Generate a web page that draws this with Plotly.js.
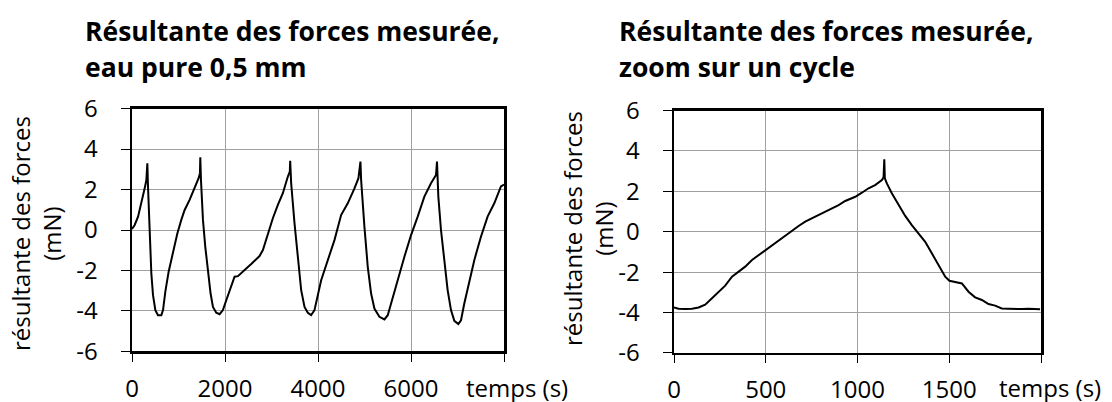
<!DOCTYPE html>
<html>
<head>
<meta charset="utf-8">
<script src="https://cdn.plot.ly/plotly-3.0.1.min.js"></script>
<style>html,body{margin:0;padding:0;background:#fff;}#chart{width:1112px;height:402px;}</style>
</head>
<body>
<div id="chart"></div>
<script>
// ---- Data ----
const leftTime = [0, 58, 130, 201, 273, 309, 330, 344, 380, 416, 452, 502, 559, 631, 667, 717, 788, 881, 975, 1060, 1132, 1239, 1347, 1433, 1461, 1469, 1483, 1526, 1576, 1633, 1690, 1741, 1812, 1884, 1955, 2027, 2120, 2206, 2278, 2349, 2457, 2564, 2671, 2743, 2815, 2922, 3029, 3137, 3244, 3352, 3394, 3402, 3423, 3495, 3566, 3638, 3710, 3781, 3853, 3924, 4068, 4211, 4354, 4497, 4640, 4784, 4870, 4913, 4927, 4998, 5070, 5142, 5213, 5321, 5428, 5500, 5607, 5714, 5858, 6001, 6144, 6287, 6430, 6538, 6559, 6588, 6645, 6717, 6788, 6860, 6932, 7018, 7075, 7146, 7254, 7361, 7504, 7647, 7791, 7934, 8000];
const leftForce = [0.05, 0.25, 0.66, 1.32, 2.06, 2.48, 3.30, 2.15, -0.17, -2.15, -3.22, -3.96, -4.21, -4.21, -3.96, -3.05, -2.06, -1.07, -0.17, 0.50, 0.99, 1.49, 2.06, 2.56, 2.81, 3.60, 2.48, 0.50, -0.83, -2.15, -3.14, -3.80, -4.09, -4.16, -3.96, -3.47, -2.81, -2.31, -2.28, -2.11, -1.90, -1.68, -1.45, -1.29, -0.99, -0.17, 0.58, 1.24, 1.82, 2.64, 2.89, 3.42, 2.31, 0.33, -1.49, -2.97, -3.80, -4.09, -4.21, -3.96, -2.48, -1.49, -0.50, 0.74, 1.32, 2.06, 2.56, 3.38, 2.48, 0.17, -1.82, -3.14, -3.88, -4.29, -4.42, -4.21, -3.30, -2.48, -1.32, -0.25, 0.66, 1.65, 2.31, 2.72, 3.38, 1.65, 0.00, -1.65, -2.97, -3.96, -4.49, -4.65, -4.46, -3.63, -2.56, -1.49, -0.33, 0.66, 1.32, 2.15, 2.25];

const rightTime = [0, 25, 62, 98, 134, 170, 207, 243, 279, 316, 352, 388, 425, 461, 499, 534, 570, 606, 643, 679, 715, 752, 788, 824, 860, 897, 933, 969, 988, 1024, 1060, 1096, 1133, 1142, 1146, 1149, 1160, 1187, 1224, 1260, 1296, 1333, 1369, 1405, 1441, 1478, 1501, 1532, 1569, 1605, 1641, 1678, 1714, 1750, 1786, 1823, 1859, 1895, 1932, 1968, 1995];
const rightForce = [-3.75, -3.81, -3.83, -3.81, -3.75, -3.61, -3.30, -2.97, -2.67, -2.23, -1.98, -1.73, -1.40, -1.16, -0.91, -0.68, -0.41, -0.17, 0.08, 0.28, 0.50, 0.66, 0.83, 0.99, 1.16, 1.32, 1.52, 1.67, 1.73, 1.93, 2.15, 2.31, 2.56, 2.69, 3.58, 2.64, 2.39, 1.90, 1.32, 0.78, 0.33, -0.08, -0.50, -1.07, -1.68, -2.23, -2.43, -2.48, -2.56, -2.97, -3.25, -3.38, -3.58, -3.66, -3.80, -3.81, -3.83, -3.83, -3.81, -3.84, -3.84];

const yTickVals = [-6, -4, -2, 0, 2, 4, 6];
const yTickLabels = ['-6', '-4', '-2', '0', '2', '4', '6'];
const leftXTickVals = [0, 2000, 4000, 6000, 8000];
const leftXTickLabels = ['0', '2000', '4000', '6000', ''];
const rightXTickVals = [0, 500, 1000, 1500, 2000];
const rightXTickLabels = ['0', '500', '1000', '1500', ''];

const leftTitle = ['Résultante des forces mesurée,', 'eau pure 0,5 mm'];
const rightTitle = ['Résultante des forces mesurée,', 'zoom sur un cycle'];
const yTitle = 'résultante des forces<br>(mN)';
const xTitle = 'temps (s)';

// ---- Layout helpers (pixel -> paper) ----
const W = 1112, H = 402;
const px = x => x / W;
const py = y => 1 - y / H;

const FONT = 'Open Sans, Noto Sans, sans-serif';

function xAxis(domain, range, vals, labels, anchor) {
  return {
    domain: domain, range: range, anchor: anchor,
    tickmode: 'array', tickvals: vals, ticktext: labels,
    showgrid: true, gridcolor: '#a0a0a0', gridwidth: 1, zeroline: false,
    showline: true, linecolor: '#000', linewidth: 2.5, mirror: true,
    ticks: 'outside', ticklen: 8, tickwidth: 1, tickcolor: '#000',
    ticklabelstandoff: 6,
    tickfont: {family: FONT, size: 24, color: '#000'},
    fixedrange: true
  };
}
function yAxis(domain, anchor) {
  return {
    domain: domain, range: [-6, 6], anchor: anchor,
    tickmode: 'array', tickvals: yTickVals, ticktext: yTickLabels,
    showgrid: true, gridcolor: '#a0a0a0', gridwidth: 1, zeroline: false,
    showline: true, linecolor: '#000', linewidth: 2.5, mirror: true,
    ticks: 'outside', ticklen: 9, tickwidth: 1, tickcolor: '#000',
    ticklabelstandoff: 18,
    tickfont: {family: FONT, size: 24, color: '#000'},
    fixedrange: true
  };
}

const traces = [
  {x: leftTime, y: leftForce, xaxis: 'x', yaxis: 'y', type: 'scatter', mode: 'lines',
   line: {color: '#000', width: 2}, hoverinfo: 'skip'},
  {x: rightTime, y: rightForce, xaxis: 'x2', yaxis: 'y2', type: 'scatter', mode: 'lines',
   line: {color: '#000', width: 2}, hoverinfo: 'skip'}
];

const titleFont = {family: FONT, size: 26.5, color: '#000', weight: 700};
const labelFont = {family: FONT, size: 24, color: '#000'};

const annotations = [
  {text: '<b>' + leftTitle[0] + '</b>', x: px(83), y: py(31), xanchor: 'left', yanchor: 'middle'},
  {text: '<b>' + leftTitle[1] + '</b>', x: px(83), y: py(67), xanchor: 'left', yanchor: 'middle'},
  {text: '<b>' + rightTitle[0] + '</b>', x: px(617), y: py(31), xanchor: 'left', yanchor: 'middle'},
  {text: '<b>' + rightTitle[1] + '</b>', x: px(617), y: py(67), xanchor: 'left', yanchor: 'middle'}
].map(a => Object.assign(a, {xref: 'paper', yref: 'paper', showarrow: false, font: titleFont}));

annotations.push(
  {text: yTitle, x: px(36), y: py(234), textangle: -90, font: labelFont},
  {text: yTitle, x: px(588), y: py(229), textangle: -90, font: labelFont},
  {text: xTitle, x: px(464), y: py(387), xanchor: 'left', font: labelFont},
  {text: xTitle, x: px(997), y: py(387), xanchor: 'left', font: labelFont}
);
annotations.forEach(a => { a.xref = 'paper'; a.yref = 'paper'; a.showarrow = false; if (!a.xanchor) a.xanchor = 'center'; if (!a.yanchor) a.yanchor = 'middle'; });

const layout = {
  width: W, height: H,
  margin: {l: 0, r: 0, t: 0, b: 0, pad: 0},
  paper_bgcolor: '#fff', plot_bgcolor: '#fff',
  showlegend: false,
  font: {family: FONT, color: '#000'},
  xaxis: xAxis([px(132), px(504)], [0, 8000], leftXTickVals, leftXTickLabels, 'y'),
  yaxis: yAxis([py(351.4), py(108.6)], 'x'),
  xaxis2: xAxis([px(674), px(1041)], [0, 2000], rightXTickVals, rightXTickLabels, 'y2'),
  yaxis2: yAxis([py(352.9), py(110.5)], 'x2'),
  annotations: annotations
};

Plotly.newPlot('chart', traces, layout, {staticPlot: true, displayModeBar: false});
</script>
</body>
</html>
